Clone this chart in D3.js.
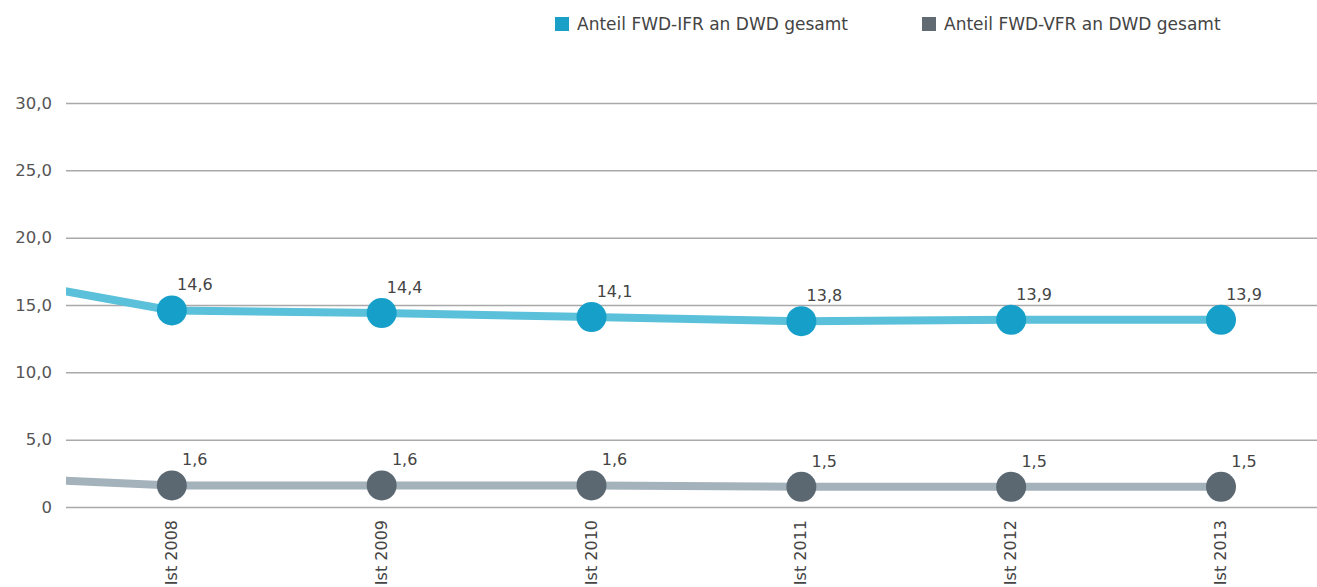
<!DOCTYPE html>
<html>
<head>
<meta charset="utf-8">
<script src="https://cdn.jsdelivr.net/npm/d3@7"></script>
<style>
  body { margin: 0; background: #fff; }
  svg { display: block; font-family: "DejaVu Sans", "Open Sans", sans-serif; }
</style>
</head>
<body>
<svg id="drawing_region"></svg>
<script>
// "Ist 2007" is only the lead-in that enters from the left edge (clipped)
const categories = ["Ist 2007", "Ist 2008", "Ist 2009", "Ist 2010", "Ist 2011", "Ist 2012", "Ist 2013"];
const ifrValues = [17.4, 14.6, 14.4, 14.1, 13.8, 13.9, 13.9];
const vfrValues = [2.3, 1.6, 1.6, 1.6, 1.5, 1.5, 1.5];
const yTicks = [0, 5, 10, 15, 20, 25, 30];
const seriesNames = ["Anteil FWD-IFR an DWD gesamt", "Anteil FWD-VFR an DWD gesamt"];

const config = {
    width: 1317,
    height: 587,
    margin: {top: 103, right: 0, bottom: 80, left: 66}
};

const fmt = v => v === 0 ? "0" : v.toFixed(1).replace(".", ",");

const svg = d3.select('#drawing_region')
    .attr('width', config.width)
    .attr('height', config.height);

const x = d3.scalePoint()
    .domain(categories)
    .range([-38, 1221]);

const y = d3.scaleLinear()
    .domain([0, 30])
    .range([507, 103]);

// grid lines
const yAxis = d3.axisLeft(y)
    .tickValues(yTicks)
    .tickSize(-(config.width - config.margin.left))
    .tickFormat(fmt);

const gy = svg.append('g')
    .attr('transform', `translate(${config.margin.left},0)`)
    .call(yAxis);
gy.select('.domain').remove();
gy.selectAll('.tick line')
    .attr('stroke', '#a9a9a9')
    .attr('stroke-width', 1.5);
gy.selectAll('.tick text')
    .attr('x', -14)
    .attr('fill', '#555')
    .attr('font-family', '"DejaVu Sans", sans-serif')
    .attr('font-size', '16.5px');

// clip
svg.append('clipPath').attr('id', 'plotclip')
    .append('rect')
    .attr('x', config.margin.left)
    .attr('y', 0)
    .attr('width', config.width - config.margin.left)
    .attr('height', config.height);

const series = [
    {name: seriesNames[0], values: ifrValues, line: '#5bc0d9', dot: '#16a0c9', key: '#1a9fc7'},
    {name: seriesNames[1], values: vfrValues, line: '#a3b2bb', dot: '#5c6871', key: '#5f6a72'}
];

const line = d3.line()
    .x((d, i) => x(categories[i]))
    .y(d => y(d));

const plot = svg.append('g').attr('clip-path', 'url(#plotclip)');

series.forEach(s => {
    plot.append('path')
        .attr('d', line(s.values))
        .attr('fill', 'none')
        .attr('stroke', s.line)
        .attr('stroke-width', 8);

    const pts = s.values.map((v, i) => ({v, c: categories[i]})).slice(1);

    plot.selectAll(null)
        .data(pts)
        .enter()
        .append('circle')
        .attr('cx', d => x(d.c))
        .attr('cy', d => y(d.v))
        .attr('r', 15)
        .attr('fill', s.dot);

    svg.selectAll(null)
        .data(pts)
        .enter()
        .append('text')
        .attr('x', d => x(d.c) + 23)
        .attr('y', d => y(d.v) - 20)
        .attr('text-anchor', 'middle')
        .attr('font-size', '16px')
        .attr('fill', '#444')
        .text(d => fmt(d.v));
});

// x labels (rotated)
svg.selectAll('.xlabel')
    .data(categories.slice(1))
    .enter()
    .append('text')
    .attr('class', 'xlabel')
    .attr('transform', d => `translate(${x(d) + 5},520) rotate(-90)`)
    .attr('text-anchor', 'end')
    .attr('font-size', '16px')
    .attr('fill', '#444')
    .text(d => d);

// legend
const legendX = [555, 922];
const legend = svg.selectAll('.legend')
    .data(series)
    .enter()
    .append('g')
    .attr('transform', (d, i) => `translate(${legendX[i]},17)`);
legend.append('rect')
    .attr('width', 14)
    .attr('height', 14)
    .attr('fill', d => d.key);
legend.append('text')
    .attr('x', 22)
    .attr('y', 13)
    .attr('font-size', '17px')
    .attr('fill', '#444')
    .text(d => d.name);
</script>
</body>
</html>
